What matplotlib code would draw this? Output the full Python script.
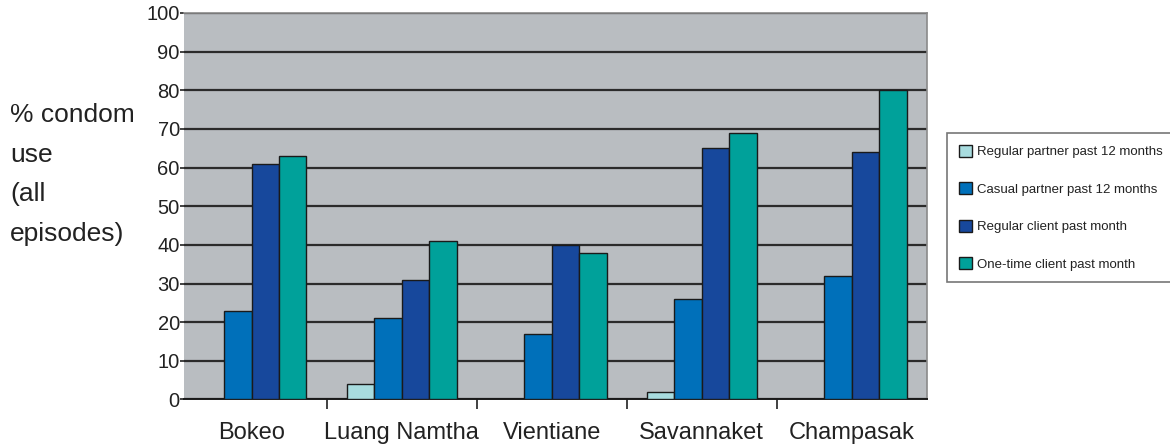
import numpy as np
import matplotlib
matplotlib.use("Agg")
from matplotlib import pyplot as plt

plt.rcParams["font.family"] = ["Liberation Sans", "DejaVu Sans"]

# condom use by province and partner type (%), nan = no bar shown
provinces = ["Bokeo", "Luang Namtha", "Vientiane", "Savannaket", "Champasak"]
regular_partner = [np.nan, 4, np.nan, 2, np.nan]
casual_partner = [23, 21, 17, 26, 32]
regular_client = [61, 31, 40, 65, 64]
onetime_client = [63, 41, 38, 69, 80]

series_names = ["Regular partner past 12 months", "Casual partner past 12 months",
                "Regular client past month", "One-time client past month"]
series_colors = ["#a8dcdf", "#0070ba", "#17489c", "#00a19a"]
ylabel_lines = ["% condom", "use", "(all", "episodes)"]

fig = plt.figure(figsize=(11.7, 4.48), dpi=100)
ax = fig.add_axes([0.1573, 0.1083, 0.6348, 0.8627])
ax.set_facecolor("#b9bdc1")

x = np.arange(len(provinces))
w = 0.183
all_series = [regular_partner, casual_partner, regular_client, onetime_client]
handles = []
for i, (vals, name, col) in enumerate(zip(all_series, series_names, series_colors)):
    b = ax.bar(x + (i - 1.5) * w, vals, width=w, color=col, edgecolor="#1a1a1a",
               linewidth=1.0, label=name, zorder=3)
    handles.append(b)

ax.set_xlim(-0.45, 4.5)
ax.set_ylim(0, 100)
ax.set_yticks(range(0, 101, 10))
ax.yaxis.grid(True, color="#2b2b2b", linewidth=1.6, zorder=1)
ax.set_axisbelow(True)

# category boundary ticks below the axis, labels centred between them
ax.set_xticks(x[:-1] + 0.5)
ax.set_xticks(x, minor=True)
ax.set_xticklabels([])
ax.set_xticklabels(provinces, minor=True, fontsize=17)
ax.tick_params(axis="x", which="major", length=7, width=1.3, color="#333333")
ax.tick_params(axis="x", which="minor", length=0, pad=16)
ax.tick_params(axis="y", length=3, width=1.3, color="#333333", labelsize=14.5, pad=0)
for lab in ax.get_yticklabels() + ax.get_xticklabels(minor=True):
    lab.set_color("#222222")

for side in ["top", "right"]:
    ax.spines[side].set_color("#8a8a8a")
    ax.spines[side].set_linewidth(1.2)
ax.spines["left"].set_visible(False)
ax.spines["bottom"].set_color("#1a1a1a")
ax.spines["bottom"].set_linewidth(1.4)

for k, line in enumerate(ylabel_lines):
    fig.text(10 / 1170, 1 - (115 + 39.5 * k) / 448, line, fontsize=19,
             color="#222222", va="center", ha="left")

leg = fig.legend(handles=handles, loc="upper left",
                 bbox_to_anchor=(947 / 1170, 1 - 133 / 448), fontsize=9.5,
                 frameon=True, fancybox=False, handlelength=1.0, handleheight=1.0,
                 handletextpad=0.4, labelspacing=1.82, borderpad=0.9,
                 borderaxespad=0)
leg.get_frame().set_edgecolor("#555555")
leg.get_frame().set_linewidth(1.2)
for t in leg.get_texts():
    t.set_color("#222222")

fig.savefig("out.png", dpi=100)
